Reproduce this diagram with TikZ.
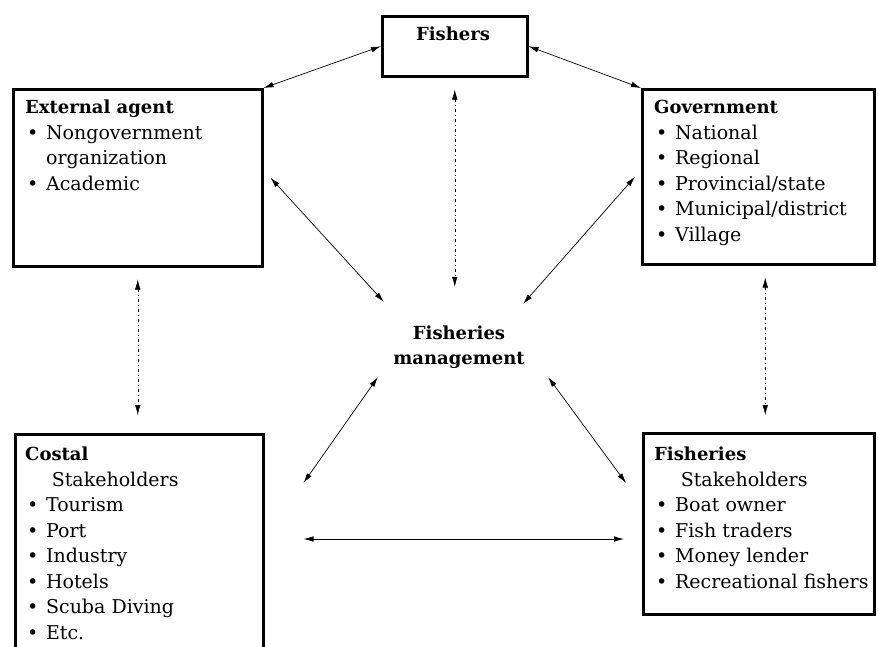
\documentclass[tikz,border=0pt]{standalone}
\usepackage{fontspec}
\setmainfont{DejaVu Serif}
\usetikzlibrary{arrows.meta, positioning}

\newcommand{\bul}{\makebox[1.1em][l]{\hspace{0.1em}\textbullet}}
\newcommand{\ind}{\hspace*{1.1em}}
\newcommand{\hd}[1]{{\fontsize{18}{25.5}\selectfont\bfseries #1}}

\begin{document}
\begin{tikzpicture}[x=1pt, y=-1pt,
    box/.style={draw, line width=2.5pt, anchor=north west, inner sep=0},
    txt/.style={align=left, inner sep=0, anchor=north west, font=\fontsize{19}{25.5}\selectfont},
    conn/.style={{Latex[length=10pt,width=5.5pt]}-{Latex[length=10pt,width=5.5pt]}, line width=0.7pt},
    dots/.style={conn, line width=0.5pt, dash pattern=on 3pt off 3pt on 1pt off 3pt}
]
    \clip (0,0) rectangle (878,646);

    % Boxes - the coastal one runs off the page
    \node[box, minimum width=145, minimum height=60] (fishers) at (381,15) {};
    \node[box, minimum width=249, minimum height=177] (ext) at (12,88) {};
    \node[box, minimum width=232, minimum height=175] (gov) at (641,88) {};
    \node[box, minimum width=248, minimum height=240] (coast) at (14,433) {};
    \node[box, minimum width=231, minimum height=181] (fish) at (642,432) {};

    % Texts
    \node[txt, anchor=base] (fishersT) at (453,40) {\hd{Fishers}};
    \node[txt] (extT) at (25,100) {\hd{External agent}\\
        \bul Nongovernment\\ \ind organization\\ \bul Academic};
    \node[txt] (govT) at (654,100) {\hd{Government}\\
        \bul National\\ \bul Regional\\ \bul Provincial/state\\
        \bul Municipal/district\\ \bul Village};
    \node[txt] (coastT) at (25,447) {\hd{Costal}\\ \hspace*{1.4em}Stakeholders\\
        \bul Tourism\\ \bul Port\\ \bul Industry\\ \bul Hotels\\
        \bul Scuba Diving\\ \bul Etc.};
    \node[txt] (fishT) at (654,447) {\hd{Fisheries}\\ \hspace*{1.4em}Stakeholders\\
        \bul Boat owner\\ \bul Fish traders\\ \bul Money lender\\
        \bul Recreational fishers};
    \node[txt, align=center, anchor=center, minimum width=160, minimum height=76] (fm)
        at (459,347) {\hd{Fisheries}\\ \hd{management}};

    % Solid links
    \draw[conn] (fishers.west) -- (ext.north east);
    \draw[conn] (fishers.east) -- (gov.north west);
    \draw[conn] ([xshift=7]ext.east) -- ([xshift=5,yshift=7]fm.north west);
    \draw[conn] ([xshift=-6]gov.west) -- ([xshift=-16,yshift=5]fm.north east);
    \draw[conn] ([xshift=-1,yshift=8]fm.south west) -- ([xshift=39,yshift=-50]coast.north east);
    \draw[conn] ([xshift=9,yshift=8]fm.south east) -- ([xshift=-16,yshift=-51]fish.north west);
    \draw[conn] ([xshift=39,yshift=-106]coast.north east) -- ([xshift=-18,yshift=-107]fish.north west);

    % Dotted links
    \draw[dots, shorten <=12, shorten >=22] (fishers.south) -- (fishers.south |- fm.north);
    \draw[dots, shorten <=12, shorten >=18] (ext.south) -- (ext.south |- coast.north);
    \draw[dots, shorten <=12, shorten >=17] ([xshift=7]gov.south) -- ([xshift=7]gov.south |- fish.north);
\end{tikzpicture}
\end{document}
